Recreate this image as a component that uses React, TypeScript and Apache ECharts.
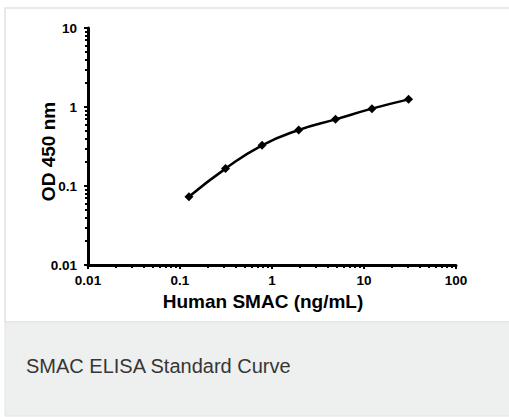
import React, { useEffect, useRef } from "react";
import * as echarts from "echarts";

const concentrations = [0.125, 0.3125, 0.78, 1.95, 4.9, 12.2, 30.5];
const odValues = [0.073, 0.166, 0.327, 0.512, 0.698, 0.953, 1.25];
const xMinorTicks = [
  0.02, 0.03, 0.04, 0.05, 0.06, 0.07, 0.08, 0.09,
  0.2, 0.3, 0.4, 0.5, 0.6, 0.7, 0.8, 0.9,
  2, 3, 4, 5, 6, 7, 8, 9,
  20, 30, 40, 50, 60, 70, 80, 90,
];
const yMinorTicks = [
  0.02, 0.03, 0.04, 0.05, 0.06, 0.07, 0.08, 0.09,
  0.2, 0.3, 0.4, 0.5, 0.6, 0.7, 0.8, 0.9,
  2, 3, 4, 5, 6, 7, 8, 9,
];
const xTitle = "Human SMAC (ng/mL)";
const yTitle = "OD 450 nm";
const caption = "SMAC ELISA Standard Curve";

export default function App() {
  const ref = useRef<HTMLDivElement>(null);
  useEffect(() => {
    if (!ref.current) return;
    const chart = echarts.init(ref.current, null, { renderer: "svg" });
    const font = "Liberation Sans, Arial, sans-serif";
    chart.setOption({
      animation: false,
      backgroundColor: "#ffffff",
      grid: { left: 88, right: 53, top: 28, bottom: 152, containLabel: false },
      graphic: [
        {
          type: "rect",
          z: -10,
          silent: true,
          shape: { x: 5, y: 8, width: 520, height: 314 },
          style: { fill: "#ffffff", stroke: "#e2e2e2", lineWidth: 1.5 },
        },
        {
          type: "rect",
          z: -10,
          silent: true,
          shape: { x: 5, y: 322, width: 520, height: 94 },
          style: { fill: "#eef0ef", stroke: "#e2e2e2", lineWidth: 1 },
        },
        {
          type: "text",
          x: 26,
          y: 366,
          style: {
            text: caption,
            font: "20px " + font,
            fill: "#363636",
            verticalAlign: "middle",
          },
        },
      ],
      xAxis: [
        {
          type: "log",
          logBase: 10,
          min: 0.01,
          max: 100,
          name: xTitle,
          nameLocation: "middle",
          nameGap: 27,
          nameMoveOverlap: false,
          nameTextStyle: { fontFamily: font, fontWeight: "bold", fontSize: 19, color: "#000", padding: [0, 18, 0, 0] },
          axisLine: { lineStyle: { color: "#000", width: 3 } },
          axisTick: { show: true, inside: false, length: 4, lineStyle: { color: "#000", width: 2 } },
          axisLabel: { fontFamily: font, fontWeight: "bold", fontSize: 13.5, color: "#000", margin: 8 },
          splitLine: { show: false },
        },
        {
          type: "log",
          logBase: 10,
          min: 0.01,
          max: 100,
          position: "bottom",
          axisLine: { show: false },
          axisTick: { show: true, inside: false, length: 3, customValues: xMinorTicks, lineStyle: { color: "#000", width: 2 } },
          axisLabel: { show: false },
          splitLine: { show: false },
        },
      ],
      yAxis: [
        {
          type: "log",
          logBase: 10,
          min: 0.01,
          max: 10,
          name: yTitle,
          nameLocation: "middle",
          nameGap: 30,
          nameMoveOverlap: false,
          nameTextStyle: { fontFamily: font, fontWeight: "bold", fontSize: 19, color: "#000", padding: [0, 10, 0, 0] },
          axisLine: { show: true, lineStyle: { color: "#000", width: 3 } },
          axisTick: { show: true, inside: false, length: 4, lineStyle: { color: "#000", width: 2 } },
          axisLabel: { fontFamily: font, fontWeight: "bold", fontSize: 13.5, color: "#000", margin: 11 },
          splitLine: { show: false },
        },
        {
          type: "log",
          logBase: 10,
          min: 0.01,
          max: 10,
          position: "left",
          axisLine: { show: false },
          axisTick: { show: true, inside: false, length: 3, customValues: yMinorTicks, lineStyle: { color: "#000", width: 2 } },
          axisLabel: { show: false },
          splitLine: { show: false },
        },
      ],
      series: [
        {
          type: "line",
          xAxisIndex: 0,
          yAxisIndex: 0,
          data: concentrations.map((c, i) => [c, odValues[i]]),
          smooth: true,
          symbol: "diamond",
          symbolSize: 9,
          lineStyle: { color: "#000", width: 2.5 },
          itemStyle: { color: "#000" },
        },
      ],
    });
    return () => chart.dispose();
  }, []);
  return (
    <div
      ref={ref}
      style={{ position: "absolute", left: 0, top: 0, width: 509, height: 417 }}
    />
  );
}
